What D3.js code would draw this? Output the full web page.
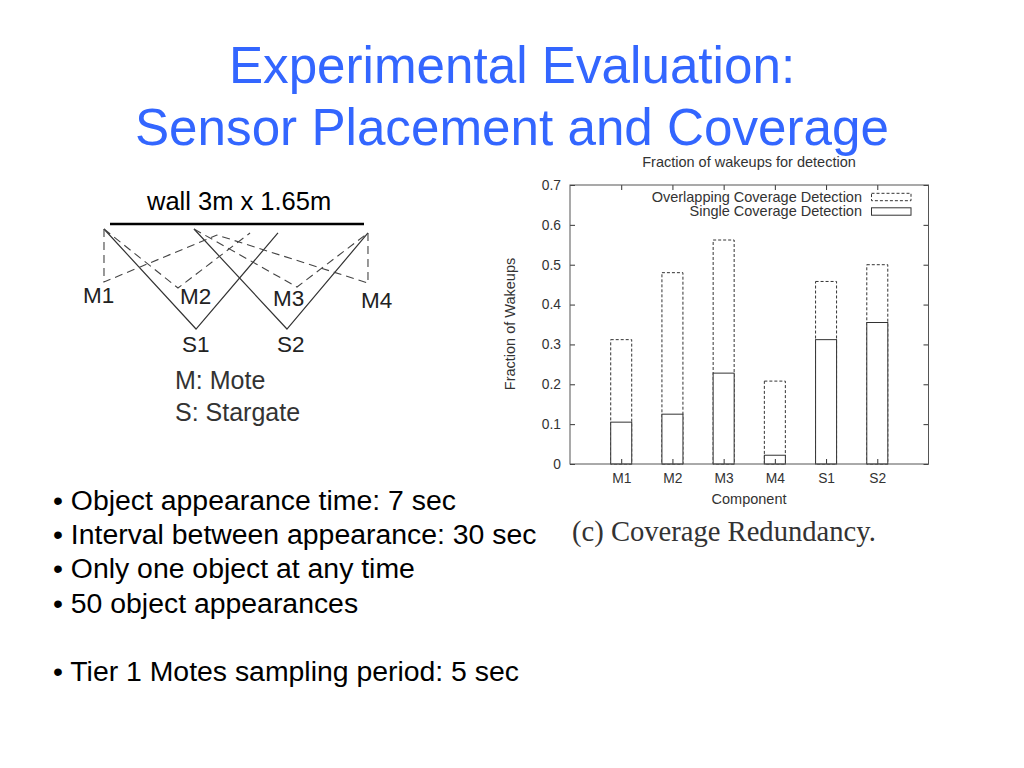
<!DOCTYPE html>
<html><head><meta charset="utf-8">
<script src="https://cdn.jsdelivr.net/npm/d3@7/dist/d3.min.js"></script>
<style>html,body{margin:0;padding:0;background:#fff;overflow:hidden}svg{display:block}text{font-family:"Liberation Sans",Arial,sans-serif}</style>
</head><body><svg id="c" width="1024" height="768"></svg>
<script>
const components = ["M1","M2","M3","M4","S1","S2"];
const singleCoverage = [0.105,0.125,0.228,0.022,0.312,0.355];
const overlapTotal = [0.312,0.48,0.562,0.208,0.458,0.5];
const yTicks = [0,0.1,0.2,0.3,0.4,0.5,0.6,0.7];
const legendLabels = ["Overlapping Coverage Detection","Single Coverage Detection"];
const titleLines = ["Experimental Evaluation:","Sensor Placement and Coverage"];
const bullets = ["• Object appearance time: 7 sec","• Interval between appearance: 30 sec","• Only one object at any time","• 50 object appearances","","• Tier 1 Motes sampling period: 5 sec"];
// sensor layout, in metres along and below the wall
const solidPaths = [[[-0.071,0.059],[1.016,1.24],[1.984,0.106]],[[0.992,0.059],[2.09,1.24],[3.047,0.106]]];
const dashedPaths = [
 [[-0.071,0.059],[-0.071,0.685],[1.264,0.13]],
 [[-0.071,0.059],[0.803,0.756],[1.654,0.106]],
 [[0.992,0.059],[2.209,0.744],[3.047,0.106]],
 [[3.047,0.106],[3.047,0.697],[1.264,0.13]]];
const nodeLabels = [["M1",-0.32,0.933],["M2",0.827,0.944],["M3",1.925,0.968],["M4",2.964,0.992],["S1",0.85,1.511],["S2",1.972,1.511]];
const keyLines = ["M: Mote","S: Stargate"];

const svg = d3.select("#c");
svg.selectAll("text.title").data(titleLines).join("text").attr("class","title")
  .attr("x",512).attr("y",(d,i)=>83+i*62).attr("text-anchor","middle")
  .attr("font-size",51.2).attr("fill","#3366ff").text(d=>d);
svg.selectAll("text.bullet").data(bullets).join("text").attr("class","bullet")
  .attr("x",53).attr("y",(d,i)=>510+i*34.2).attr("font-size",28.4).attr("fill","#000").text(d=>d);

// diagram
const mx = d3.scaleLinear().domain([0,3]).range([110,364]);
const my = d3.scaleLinear().domain([0,1]).range([224,308.7]);
const ln = d3.line().x(d=>mx(d[0])).y(d=>my(d[1]));
const dg = svg.append("g");
dg.append("line").attr("x1",mx(0)).attr("x2",mx(3)).attr("y1",my(0)).attr("y2",my(0)).attr("stroke","#000").attr("stroke-width",2.5);
dg.selectAll("path.s").data(solidPaths).join("path").attr("class","s").attr("d",ln).attr("fill","none").attr("stroke","#333").attr("stroke-width",1.2);
dg.selectAll("path.d").data(dashedPaths).join("path").attr("class","d").attr("d",ln).attr("fill","none").attr("stroke","#444").attr("stroke-width",1.1).attr("stroke-dasharray","8 5");
dg.selectAll("text.n").data(nodeLabels).join("text").attr("class","n").attr("x",d=>mx(d[1])).attr("y",d=>my(d[2])).attr("font-size",22.5).attr("fill","#222").text(d=>d[0]);
svg.append("text").attr("x",147).attr("y",210).attr("font-size",25.5).attr("fill","#000").text("wall 3m x 1.65m");
svg.selectAll("text.k").data(keyLines).join("text").attr("class","k").attr("x",175).attr("y",(d,i)=>389+i*32).attr("font-size",25).attr("fill","#333").text(d=>d);

// chart
const L=570,R=928.5,T=185,B=464;
const x = d3.scaleLinear().domain([0,7]).range([L,R]);
const y = d3.scaleLinear().domain([0,0.7]).range([B,T]);
const barW = 0.41;
const g = svg.append("g");
const col="#333";
const rows = components.map((c,i)=>({i:i+1,c,s:singleCoverage[i],t:overlapTotal[i]}));
g.selectAll("rect.t").data(rows).join("rect").attr("class","t")
  .attr("x",d=>x(d.i-barW/2)).attr("width",x(barW)-x(0)).attr("y",d=>y(d.t)).attr("height",d=>y(0)-y(d.t))
  .attr("fill","none").attr("stroke",col).attr("stroke-width",1).attr("stroke-dasharray","3 2");
g.selectAll("rect.s").data(rows).join("rect").attr("class","s")
  .attr("x",d=>x(d.i-barW/2)).attr("width",x(barW)-x(0)).attr("y",d=>y(d.s)).attr("height",d=>y(0)-y(d.s))
  .attr("fill","#fff").attr("stroke",col).attr("stroke-width",1);

const style=(a)=>{a.select(".domain").remove();a.selectAll("line").attr("stroke",col);a.selectAll("text").attr("font-size",13.8).attr("fill","#333");};
const xLab=d=>components[d-1];
const xv=components.map((c,i)=>i+1);
g.append("g").attr("transform",`translate(0,${B})`).call(d3.axisBottom(x).tickValues(xv).tickSize(-5).tickPadding(9).tickFormat(xLab)).call(style);
g.append("g").attr("transform",`translate(0,${T})`).call(d3.axisTop(x).tickValues(xv).tickSize(-5).tickFormat("")).call(style);
g.append("g").attr("transform",`translate(${L},0)`).call(d3.axisLeft(y).tickValues(yTicks).tickSize(-5).tickPadding(9).tickFormat(d=>d===0?"0":d3.format(".1f")(d))).call(style);
g.append("g").attr("transform",`translate(${R},0)`).call(d3.axisRight(y).tickValues(yTicks).tickSize(-5).tickFormat("")).call(style);
g.append("rect").attr("x",L).attr("y",T).attr("width",R-L).attr("height",B-T).attr("fill","none").attr("stroke","#555").attr("stroke-width",1);

// legend
const ly=[197,211.5];
g.selectAll("text.l").data(legendLabels).join("text").attr("class","l").attr("x",862).attr("y",(d,i)=>ly[i]+4.5).attr("text-anchor","end").attr("font-size",14.5).attr("fill","#333").text(d=>d);
g.selectAll("rect.l").data(legendLabels).join("rect").attr("class","l").attr("x",871.5).attr("width",39.5).attr("y",(d,i)=>ly[i]-3.7).attr("height",7.4)
 .attr("fill","#fff").attr("stroke",col).attr("stroke-dasharray",(d,i)=>i?null:"3 2");

g.append("text").attr("x",749).attr("y",167).attr("text-anchor","middle").attr("font-size",14.5).attr("fill","#333").text("Fraction of wakeups for detection");
g.append("text").attr("x",749).attr("y",504).attr("text-anchor","middle").attr("font-size",14.5).attr("fill","#333").text("Component");
g.append("text").attr("transform","translate(515,324) rotate(-90)").attr("text-anchor","middle").attr("font-size",14.5).attr("fill","#333").text("Fraction of Wakeups");
svg.append("text").attr("x",572).attr("y",541).attr("font-size",28.6).attr("fill","#333").style("font-family","'Liberation Serif',serif").text("(c) Coverage Redundancy.");
</script></body></html>
